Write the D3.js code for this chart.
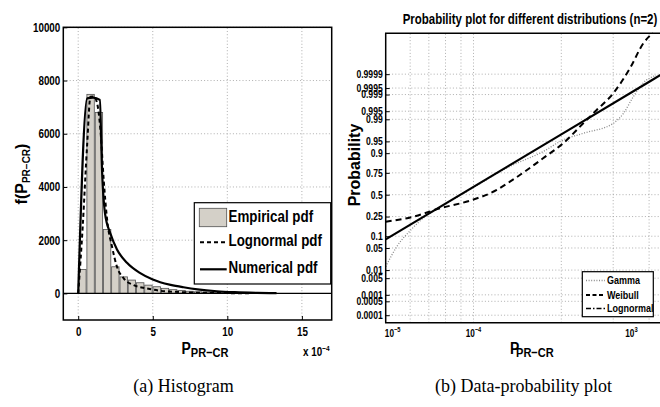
<!DOCTYPE html>
<html><head><meta charset="utf-8">
<script src="https://cdn.jsdelivr.net/npm/d3@7"></script>
<style>
body{margin:0;background:#fff}
svg{display:block}
text{font-family:"Liberation Sans",Arial,sans-serif;font-weight:bold;fill:#000}
text.cap{font-family:"Liberation Serif","Times New Roman",serif;font-weight:normal}
</style></head><body>
<svg id="fig" width="660" height="407"></svg>
<script>
// ---------- (a) histogram, x in units of 1e-4 ----------
const binCenters   = [0.28,0.83,1.39,1.94,2.49,3.05,3.60,4.16,4.71,5.27,5.82,6.37,6.93,7.48,8.04,8.59,9.14,9.70,10.25,10.81,11.36,11.92,12.47,13.02];
const empiricalPdf = [900,7480,6800,2400,1000,620,500,400,310,250,190,140,110,80,60,45,35,25,18,12,9,6,4,3];
const lognormalX   = [0,0.3,0.6,0.82,1.05,1.27,1.49,1.71,1.94,2.27,2.6,3.05,3.72,4.6,5.5,6.5,7.5,8.5,9.5,10.5,11.5];
const lognormalY   = [0,2500,5600,7390,7400,7140,6140,4260,2760,1750,1000,564,312,188,98,60,35,22,14,8,5];
const numericalX   = [0,0.6,1.0,1.45,1.6,1.8,2.16,2.6,3.27,4.16,5.0,5.5,6.2,7.06,8.0,9.3,10.5,12.0,13.3];
const numericalY   = [0,7330,7360,7270,4600,3000,2250,1650,1150,760,520,420,320,230,150,80,45,20,8];
const histXTicks   = [0,5,10,15];
const histYTicks   = [0,2000,4000,6000,8000,10000];
const histLegend   = ["Empirical pdf","Lognormal pdf","Numerical pdf"];

// ---------- (b) probability plot ----------
const probTicks  = [0.0001,0.0005,0.001,0.005,0.01,0.05,0.1,0.25,0.5,0.75,0.9,0.95,0.99,0.995,0.999,0.9995,0.9999];
const probXGrid  = [1.9e-5,3.1e-5,4.8e-5,7.2e-5,1e-4,1e-3,3.9e-3,1e-2];
const probXTicks = [1.2e-5,1e-4,6.3e-3];
const probXTickExp = ["\u22125","\u22124","3"];
const gammaX     = [1e-5,1.34e-5,1.93e-5,2.8e-5,4e-5,1e-4,2.5e-4,6.2e-4,1.05e-3,1.78e-3,3.9e-3,5.1e-3,6.6e-3,8.5e-3,1.2e-2];
const gammaP     = [0.01321,0.0548,0.1379,0.2483,0.3372,0.587,0.8023,0.9082,0.9545,0.9710,0.9861,0.99396,0.998736,0.999709,0.999883];
const weibullX   = [1e-5,2.06e-5,4.15e-5,9.1e-5,1.84e-4,2.6e-4,6.2e-4,1.05e-3,1.78e-3,2.53e-3,3.91e-3,6.05e-3,8.6e-3,1.1e-2];
const weibullP   = [0.2025,0.2487,0.337,0.4266,0.5576,0.6558,0.8693,0.9436,0.98624,0.99553,0.999127,0.999952,0.9999985,0.9999997];
const lognormX   = [1e-5,1e-4,1e-3,1.4e-2];
const lognormP   = [0.0838,0.595,0.9686,0.99990];
const probLegend = ["Gamma","Weibull","Lognormal"];

// inverse standard normal CDF (Acklam)
function probit(p){
  const a=[-3.969683028665376e+01,2.209460984245205e+02,-2.759285104469687e+02,1.383577518672690e+02,-3.066479806614716e+01,2.506628277459239e+00];
  const b=[-5.447609879822406e+01,1.615858368580409e+02,-1.556989798598866e+02,6.680131188771972e+01,-1.328068155288572e+01];
  const c=[-7.784894002430293e-03,-3.223964580411365e-01,-2.400758277161838e+00,-2.549732539343734e+00,4.374664141464968e+00,2.938163982698783e+00];
  const d=[7.784695709041462e-03,3.224671290700398e-01,2.445134137142996e+00,3.754408661907416e+00];
  const pl=0.02425;
  let q,r;
  if(p<pl){q=Math.sqrt(-2*Math.log(p));return (((((c[0]*q+c[1])*q+c[2])*q+c[3])*q+c[4])*q+c[5])/((((d[0]*q+d[1])*q+d[2])*q+d[3])*q+1);}
  if(p>1-pl){q=Math.sqrt(-2*Math.log(1-p));return -(((((c[0]*q+c[1])*q+c[2])*q+c[3])*q+c[4])*q+c[5])/((((d[0]*q+d[1])*q+d[2])*q+d[3])*q+1);}
  q=p-0.5;r=q*q;
  return (((((a[0]*r+a[1])*r+a[2])*r+a[3])*r+a[4])*r+a[5])*q/(((((b[0]*r+b[1])*r+b[2])*r+b[3])*r+b[4])*r+1);
}

// squeeze text horizontally about its anchor point (narrow sans look)
function narrow(sel, s){
  s = s || 0.82;
  sel.each(function(){
    const t = d3.select(this);
    const x = +t.attr("x") || 0, y = +t.attr("y") || 0;
    const prev = t.attr("transform") || "";
    t.attr("transform", `${prev} translate(${x},${y}) scale(${s},1) translate(${-x},${-y})`);
  });
}

const svg = d3.select("#fig");
const gridStyle = s => s.attr("stroke","#9a9a9a").attr("stroke-width",0.8).attr("stroke-dasharray","1,2.2");

// ================= panel (a) =================
const hx = d3.scaleLinear([-1,17],[63.3,331.7]);
const hy = d3.scaleLinear([-1000,10000],[320,27.3]);
const A = svg.append("g");

A.selectAll("line.gx").data(histXTicks).join("line")
  .attr("x1",d=>hx(d)).attr("x2",d=>hx(d)).attr("y1",hy.range()[0]).attr("y2",hy.range()[1]).call(gridStyle);
A.selectAll("line.gy").data(histYTicks.filter(d=>d!==0)).join("line")
  .attr("y1",d=>hy(d)).attr("y2",d=>hy(d)).attr("x1",hx.range()[0]).attr("x2",hx.range()[1]).call(gridStyle);

const binW = binCenters[1]-binCenters[0];
A.selectAll("rect.bar").data(binCenters).join("rect")
  .attr("x",(d)=>hx(d-binW*0.45)).attr("width",hx(binW*0.9)-hx(0))
  .attr("y",(d,i)=>hy(empiricalPdf[i])).attr("height",(d,i)=>hy(0)-hy(empiricalPdf[i]))
  .attr("fill","#d4d0c8").attr("stroke","#505050").attr("stroke-width",0.8);

// zero line
A.append("line").attr("x1",hx.range()[0]).attr("x2",hx.range()[1]).attr("y1",hy(0)).attr("y2",hy(0))
  .attr("stroke","#000").attr("stroke-width",1.2);

const lineA = d3.line().curve(d3.curveMonotoneX);
A.append("path").attr("d",lineA(lognormalX.map((x,i)=>[hx(x),hy(lognormalY[i])])))
  .attr("fill","none").attr("stroke","#000").attr("stroke-width",2).attr("stroke-dasharray","4,3");
A.append("path").attr("d",lineA(numericalX.map((x,i)=>[hx(x),hy(numericalY[i])])))
  .attr("fill","none").attr("stroke","#000").attr("stroke-width",2.2);

// frame and ticks
A.append("rect").attr("x",hx.range()[0]).attr("y",hy.range()[1])
  .attr("width",hx.range()[1]-hx.range()[0]).attr("height",hy.range()[0]-hy.range()[1])
  .attr("fill","none").attr("stroke","#000").attr("stroke-width",1.5);
A.append("g").attr("transform",`translate(${hx.range()[0]},0)`)
  .call(d3.axisLeft(hy).tickValues(histYTicks).tickSize(-4).tickPadding(3).tickFormat(d3.format("d")))
  .call(g=>{g.select(".domain").remove();g.selectAll("text").attr("font-size",12).attr("font-family",null).call(narrow);});
A.append("g").attr("transform",`translate(0,${hy.range()[0]})`)
  .call(d3.axisBottom(hx).tickValues(histXTicks).tickSize(-4).tickPadding(7).tickFormat(d3.format("d")))
  .call(g=>{g.select(".domain").remove();g.selectAll("text").attr("font-size",12).attr("font-family",null).call(narrow);});

const ex = A.append("text").attr("x",303).attr("y",356).attr("font-size",12);
ex.append("tspan").text("x 10");
ex.append("tspan").attr("dy",-5).attr("font-size",8).text("\u22124");
narrow(ex);

const xlA = A.append("text").attr("x",181.5).attr("y",354).attr("font-size",17).attr("font-weight","normal");
xlA.append("tspan").text("P");
xlA.append("tspan").attr("dy",3).attr("font-size",13.5).text("PR\u2212CR");
narrow(xlA);

const ylA = A.append("text").attr("transform","translate(27,174) rotate(-90)").attr("text-anchor","middle").attr("font-size",16);
ylA.append("tspan").text("f(P");
ylA.append("tspan").attr("dy",3).attr("font-size",10).text("PR\u2212CR");
ylA.append("tspan").attr("dy",-3).text(")");

// legend (a)
const LA = A.append("g");
LA.append("rect").attr("x",194.3).attr("y",202.7).attr("width",136.4).attr("height",81.3)
  .attr("fill","#fff").attr("stroke","#000").attr("stroke-width",1.2);
const rowY = [217.5,242.3,269.3];
const rowTextY = [222.5,246,273.5];
LA.append("rect").attr("x",199.3).attr("y",208.3).attr("width",27.4).attr("height",18.4)
  .attr("fill","#d4d0c8").attr("stroke","#505050").attr("stroke-width",0.8);
LA.append("line").attr("x1",200).attr("x2",226.7).attr("y1",rowY[1]).attr("y2",rowY[1])
  .attr("stroke","#000").attr("stroke-width",2).attr("stroke-dasharray","4,3");
LA.append("line").attr("x1",200).attr("x2",226.7).attr("y1",rowY[2]).attr("y2",rowY[2])
  .attr("stroke","#000").attr("stroke-width",2.2);
LA.selectAll("text").data(histLegend).join("text")
  .attr("x",228.5).attr("y",(d,i)=>rowTextY[i]).attr("font-size",16.3).text(d=>d).call(narrow);

// ================= panel (b) =================
const px = d3.scaleLog([1e-5,1.4e-2],[385.7,385.7+87.8*Math.log10(1400)]);
const pz = d3.scaleLinear([-3.95,4.98],[322.7,33.3]);
const py = p => pz(probit(p));
const B = svg.append("g");
const bx0 = px.range()[0], bx1 = px.range()[1], by0 = pz.range()[0], by1 = pz.range()[1];

B.selectAll("line.gx").data(probXGrid).join("line")
  .attr("x1",d=>px(d)).attr("x2",d=>px(d)).attr("y1",by0).attr("y2",by1).call(gridStyle);
B.selectAll("line.gy").data(probTicks).join("line")
  .attr("y1",d=>py(d)).attr("y2",d=>py(d)).attr("x1",bx0).attr("x2",bx1).call(gridStyle);

const lineB = d3.line().curve(d3.curveMonotoneX);
B.append("path").attr("d",lineB(gammaX.map((x,i)=>[px(x),py(gammaP[i])])))
  .attr("fill","none").attr("stroke","#8a8a8a").attr("stroke-width",1.3).attr("stroke-dasharray","1,1.6");
B.append("path").attr("d",lineB(lognormX.map((x,i)=>[px(x),py(lognormP[i])])))
  .attr("fill","none").attr("stroke","#000").attr("stroke-width",2.2);
B.append("path").attr("d",lineB(weibullX.map((x,i)=>[px(x),py(weibullP[i])])))
  .attr("fill","none").attr("stroke","#000").attr("stroke-width",2).attr("stroke-dasharray","6,4");

// frame
B.append("path").attr("d",`M${bx1},${by1}H${bx0}V${by0}H${bx1}V${by1}`)
  .attr("fill","none").attr("stroke","#000").attr("stroke-width",1.5);
B.append("g").attr("transform",`translate(${bx0},0)`)
  .call(d3.axisLeft(pz).tickValues(probTicks.map(probit)).tickSize(-4).tickPadding(3).tickFormat((d,i)=>String(probTicks[i])))
  .call(g=>{g.select(".domain").remove();g.selectAll("text").attr("font-size",10.5).attr("font-family",null).call(narrow);});
const xt = B.append("g").selectAll("text").data(probXTicks).join("text")
  .attr("x",d=>px(d)).attr("y",337).attr("text-anchor","middle").attr("font-size",10);
xt.append("tspan").text("10");
xt.append("tspan").attr("dy",-5).attr("font-size",7).text((d,i)=>probXTickExp[i]);
narrow(xt);

const xlB = B.append("text").attr("x",510).attr("y",354).attr("font-size",17).attr("font-weight","normal");
xlB.append("tspan").text("P");
xlB.append("tspan").attr("dx",-4).attr("dy",3).attr("font-size",13.5).text("PR\u2212CR");
narrow(xlB);

B.append("text").attr("transform","translate(359.5,165) rotate(-90)").attr("text-anchor","middle")
  .attr("font-size",16).text("Probability");

B.append("text").attr("x",530).attr("y",24.5).attr("text-anchor","middle").attr("font-size",14)
  .text("Probability plot for different distributions (n=2)").call(narrow);

// legend (b)
const LB = B.append("g");
LB.append("rect").attr("x",582.3).attr("y",271.7).attr("width",71).attr("height",45)
  .attr("fill","#fff").attr("stroke","#000").attr("stroke-width",1.2);
const rowB = [280.5,295,308.5];
const lbStyles = [
  {c:"#8a8a8a",w:1.3,d:"1,1.6"},
  {c:"#000",w:2,d:"4,2.5"},
  {c:"#000",w:1.3,d:"5,2,1.5,2"}
];
LB.selectAll("line").data(lbStyles).join("line")
  .attr("x1",586).attr("x2",605).attr("y1",(d,i)=>rowB[i]).attr("y2",(d,i)=>rowB[i])
  .attr("stroke",d=>d.c).attr("stroke-width",d=>d.w).attr("stroke-dasharray",d=>d.d);
LB.selectAll("text").data(probLegend).join("text")
  .attr("x",607).attr("y",(d,i)=>rowB[i]+4).attr("font-size",11).text(d=>d).call(narrow);

// captions
svg.append("text").attr("class","cap").attr("x",183.5).attr("y",392).attr("text-anchor","middle").attr("font-size",18).text("(a) Histogram");
svg.append("text").attr("class","cap").attr("x",523.5).attr("y",392).attr("text-anchor","middle").attr("font-size",18).text("(b) Data-probability plot");
</script>
</body></html>
